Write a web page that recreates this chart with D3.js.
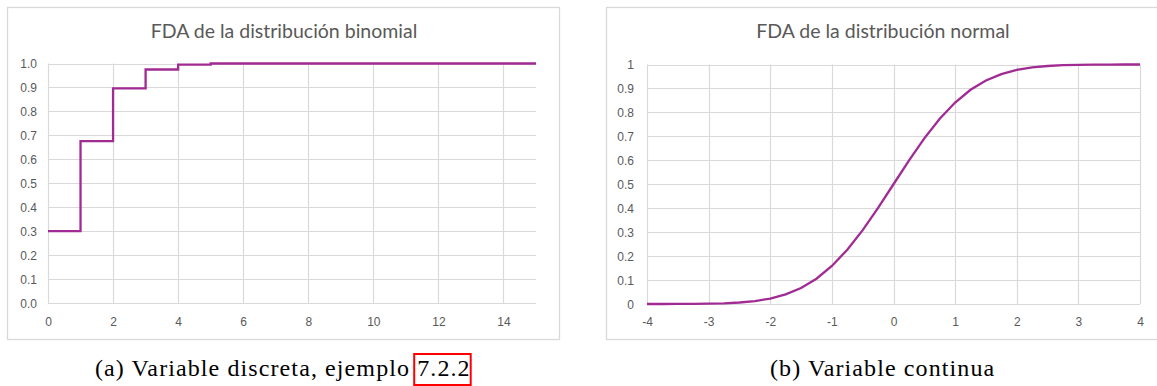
<!DOCTYPE html>
<html>
<head>
<meta charset="utf-8">
<script src="https://cdn.jsdelivr.net/npm/d3@7"></script>
<style>
  html, body { margin: 0; padding: 0; background: #fff; }
  svg { display: block; }
  .tick-label { font-family: "Liberation Sans", Arial, sans-serif; font-size: 12px; fill: #595959; }
  .chart-title { font-family: Lato, "Open Sans", sans-serif; font-size: 19.5px; fill: #595959; }
  .caption { font-family: "Liberation Serif", "DejaVu Serif", serif; font-size: 24px; letter-spacing: 1.1px; fill: #000; }
</style>
</head>
<body>
<svg id="fig" width="1157" height="386"></svg>
<script>
// Binomial CDF (discrete step function), evaluated at k = 0..15
const binomX = [0, 1, 2, 3, 4, 5, 6, 7, 8, 9, 10, 11, 12, 13, 14, 15];
const binomCdf = [0.300, 0.676, 0.896, 0.975, 0.995, 1.000, 1.000, 1.000, 1.000, 1.000, 1.000, 1.000, 1.000, 1.000, 1.000, 1.000];
const binomXTicks = [0, 2, 4, 6, 8, 10, 12, 14];
const binomYTicks = [0, 0.1, 0.2, 0.3, 0.4, 0.5, 0.6, 0.7, 0.8, 0.9, 1.0];

// Standard normal CDF sampled every 0.25
const normX = [-4, -3.75, -3.5, -3.25, -3, -2.75, -2.5, -2.25, -2, -1.75, -1.5, -1.25, -1, -0.75, -0.5, -0.25,
               0, 0.25, 0.5, 0.75, 1, 1.25, 1.5, 1.75, 2, 2.25, 2.5, 2.75, 3, 3.25, 3.5, 3.75, 4];
const normCdf = [0.0000, 0.0001, 0.0002, 0.0006, 0.0013, 0.0030, 0.0062, 0.0122, 0.0228, 0.0401, 0.0668, 0.1056,
                 0.1587, 0.2266, 0.3085, 0.4013, 0.5000, 0.5987, 0.6915, 0.7734, 0.8413, 0.8944, 0.9332, 0.9599,
                 0.9772, 0.9878, 0.9938, 0.9970, 0.9987, 0.9994, 0.9998, 0.9999, 1.0000];
const normXTicks = [-4, -3, -2, -1, 0, 1, 2, 3, 4];
const normYTicks = [0, 0.1, 0.2, 0.3, 0.4, 0.5, 0.6, 0.7, 0.8, 0.9, 1];

const titles = ["FDA de la distribución binomial", "FDA de la distribución normal"];
const captions = ["(a) Variable discreta, ejemplo ", "(b) Variable continua"];
const captionRef = "7.2.2";

const lineColor = "#A02B93";
const gridColor = "#d9d9d9";
const frameColor = "#d9d9d9";

const svg = d3.select("#fig");
svg.append("rect").attr("width", 1157).attr("height", 386).attr("fill", "#fff");

function drawPanel(cfg) {
  const g = svg.append("g");
  // chart frame
  g.append("rect")
    .attr("x", cfg.frame[0] + 0.5).attr("y", cfg.frame[1] + 0.5)
    .attr("width", cfg.frame[2]).attr("height", cfg.frame[3])
    .attr("fill", "#fff").attr("stroke", frameColor).attr("stroke-width", 1.3);

  g.append("text").attr("class", "chart-title")
    .attr("x", cfg.titleX).attr("y", 38).attr("text-anchor", "middle")
    .text(cfg.title);

  const x = d3.scaleLinear().domain(cfg.xDomain).range(cfg.xRange);
  const y = d3.scaleLinear().domain([0, 1]).range(cfg.yRange);

  // horizontal gridlines
  g.append("g").selectAll("line").data(cfg.yTicks).join("line")
    .attr("x1", cfg.xRange[0]).attr("x2", cfg.xRange[1])
    .attr("y1", d => Math.round(y(d)) + 0.5).attr("y2", d => Math.round(y(d)) + 0.5)
    .attr("stroke", gridColor).attr("stroke-width", 1.2);
  // vertical gridlines
  g.append("g").selectAll("line").data(cfg.xTicks).join("line")
    .attr("x1", d => Math.round(x(d)) + 0.5).attr("x2", d => Math.round(x(d)) + 0.5)
    .attr("y1", cfg.yRange[1]).attr("y2", cfg.yRange[0])
    .attr("stroke", gridColor).attr("stroke-width", 1.2);

  // axes (labels only, no tick marks)
  const yAxis = d3.axisLeft(y).tickValues(cfg.yTicks).tickSize(0).tickPadding(0).tickFormat(cfg.yFormat);
  const ya = g.append("g").attr("transform", `translate(${cfg.yLabelX},0)`).call(yAxis);
  ya.select(".domain").remove();
  ya.selectAll("text").attr("class", "tick-label").attr("dy", "0.35em").attr("fill", null);

  // plain hyphen-minus for negative ticks
  const xAxis = d3.axisBottom(x).tickValues(cfg.xTicks).tickSize(0).tickPadding(0).tickFormat(d => String(d));
  const xa = g.append("g").attr("transform", `translate(0,${cfg.xLabelY})`).call(xAxis);
  xa.select(".domain").remove();
  xa.selectAll("text").attr("class", "tick-label").attr("dy", "0.35em").attr("fill", null);

  const line = d3.line().x(d => x(d[0])).y(d => y(d[1])).curve(cfg.curve);
  g.append("path")
    .datum(d3.zip(cfg.xs, cfg.ys))
    .attr("d", line)
    .attr("fill", "none").attr("stroke", lineColor).attr("stroke-width", 2.3)
    .attr("stroke-linejoin", "miter").attr("stroke-linecap", "butt");
}

drawPanel({
  frame: [7, 7, 552, 332],
  title: titles[0], titleX: 284,
  xDomain: [0, 15], xRange: [48, 536],
  yRange: [303, 63.5],
  xTicks: binomXTicks, yTicks: binomYTicks,
  yFormat: d3.format(".1f"),
  yLabelX: 37, xLabelY: 322,
  xs: binomX, ys: binomCdf, curve: d3.curveStepAfter
});

drawPanel({
  frame: [606, 7, 560, 332],
  title: titles[1], titleX: 883,
  xDomain: [-4, 4], xRange: [647, 1140],
  yRange: [304, 64.5],
  xTicks: normXTicks, yTicks: normYTicks,
  yFormat: d => (d === 0 || d === 1) ? String(d) : d.toFixed(1),
  yLabelX: 634, xLabelY: 322,
  xs: normX, ys: normCdf, curve: d3.curveLinear
});

// sub-figure captions
const capA = svg.append("text").attr("class", "caption").attr("y", 376).attr("x", 95);
capA.append("tspan").text(captions[0]);
const refSpan = capA.append("tspan").text(captionRef);
svg.append("text").attr("class", "caption").attr("y", 376).attr("x", 770).text(captions[1]);

// red link box around the cross-reference
const first = refSpan.node().getExtentOfChar(0);
const last = refSpan.node().getExtentOfChar(captionRef.length - 1);
svg.append("rect")
  .attr("x", first.x - 3).attr("y", 354)
  .attr("width", last.x + last.width - first.x + 3).attr("height", 31)
  .attr("fill", "none").attr("stroke", "#ff0000").attr("stroke-width", 2);
</script>
</body>
</html>
